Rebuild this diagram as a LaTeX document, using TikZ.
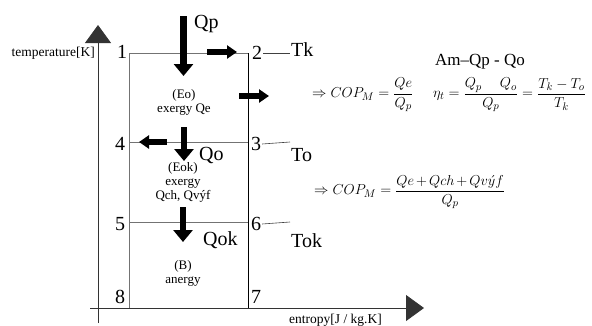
\documentclass[tikz,border=0pt]{standalone}
\usepackage{amsmath}
\usepackage{fontspec}
\setmainfont{Liberation Serif}
\usetikzlibrary{arrows.meta}
\begin{document}
\begin{tikzpicture}[x=1pt,y=-1pt,
 big/.style={font=\fontsize{20}{22}\selectfont, inner sep=1pt},
 small/.style={font=\fontsize{13}{14}\selectfont, align=center, inner sep=0pt},
 heatv/.style={line width=6.5pt, -{Triangle[length=12pt,width=19pt]}},
 heath/.style={line width=6pt, -{Triangle[length=10pt,width=13pt]}},
 axisline/.style={line width=0.8pt, black!80, -{Triangle[length=18pt,width=26pt]}},
 frame/.style={line width=0.7pt, black!55},
 leader/.style={line width=0.6pt, black!75},
 formula/.style={anchor=west, inner sep=0pt, font=\fontsize{15}{17}\selectfont},
 ]
\useasboundingbox (0,0) rectangle (592,325);
% axes
\coordinate (yb) at (98,323);
\coordinate (yt) at (98,25);
\coordinate (xl) at (90,308);
\coordinate (xr) at (424,308);
\draw[axisline] (yb) -- (yt);
\draw[axisline] (xl) -- (xr);
\node[small, font=\fontsize{13.5}{14}\selectfont, anchor=east] (tlab) at (95,53) {temperature[K]};
\node[small, font=\fontsize{13.5}{14}\selectfont, anchor=west] (slab) at (289,320) {entropy[J / kg.K]};
% cycle corners
\coordinate (p1) at (129,53);
\coordinate (p2) at (248,53);
\coordinate (p3) at (248,142);
\coordinate (p4) at (129,142);
\coordinate (p5) at (129,222);
\coordinate (p6) at (248,222);
\coordinate (p7) at (248,308);
\coordinate (p8) at (129,308);
\draw[frame] (p8) -- (p1) -- (p2);
\draw[frame] (p4) -- (p3);
\draw[frame] (p5) -- (p6);
\draw[line width=0.8pt] (p2) -- (p7);
% corner numbers
\node[big] (n1) at (122,52) {1};
\node[big] (n2) at (257,53) {2};
\node[big] (n3) at (256,144) {3};
\node[big] (n4) at (120,144) {4};
\node[big] (n5) at (120,224) {5};
\node[big] (n6) at (256,224) {6};
\node[big] (n7) at (256,297) {7};
\node[big] (n8) at (120,297) {8};
% temperature labels
\node[big, anchor=west] (tk) at (290,50) {Tk};
\node[big, anchor=west] (to) at (290,155) {To};
\node[big, anchor=west] (tok) at (290,241) {Tok};
\draw[leader] (n2.east) -- (tk.west |- p2);
\draw[leader] (n3.east) -- (to.west |- p3);
\draw[leader] (n6.east) -- (tok.west |- p6);
% heat flow labels
\node[big, anchor=west] (qp) at (193,24) {Qp};
\node[big, anchor=west] (qo) at (198,155) {Qo};
\node[big, anchor=west] (qok) at (202,240) {Qok};
% heavy arrows
\coordinate (a1s) at (183.5,16);  \coordinate (a1e) at (183.5,76);
\coordinate (a2s) at (207,52);  \coordinate (a2e) at (237,52);
\coordinate (a3s) at (239,96);  \coordinate (a3e) at (269,96);
\coordinate (a4s) at (167,142); \coordinate (a4e) at (139,142);
\coordinate (a5s) at (184,127); \coordinate (a5e) at (184,161);
\coordinate (a6s) at (183,207); \coordinate (a6e) at (183,242);
\draw[heatv] (a1s) -- (a1e);
\draw[heath] (a2s) -- (a2e);
\draw[heath] (a3s) -- (a3e);
\draw[heath] (a4s) -- (a4e);
\draw[heatv] (a5s) -- (a5e);
\draw[heatv] (a6s) -- (a6e);
% region texts
\node[small] (eo) at (184,102) {(Eo)\\exergy Qe};
\node[small] (eok) at (183,182) {(Eok)\\exergy\\Qch, Qvýf};
\node[small] (b) at (183,273) {(B)\\anergy};
% formulas
\node[font=\fontsize{17}{18}\selectfont, inner sep=0pt] (am) at (480,62) {Am–Qp - Qo};
\node[formula] (cop1) at (312,95) {$\Rightarrow COP_{M}=\dfrac{Qe}{Q_p}$};
\node[formula] (eta) at (433,95) {$\eta_t=\dfrac{Q_p\hspace{1.2em}Q_o}{Q_p}=\dfrac{T_k-T_o}{T_k}$};
\node[formula] (cop2) at (314,192) {$\medmuskip=2.5mu\relax \Rightarrow COP_{M}=\dfrac{Qe+Qch+Qv\acute{y}f}{Q_p}$};
\end{tikzpicture}
\end{document}
